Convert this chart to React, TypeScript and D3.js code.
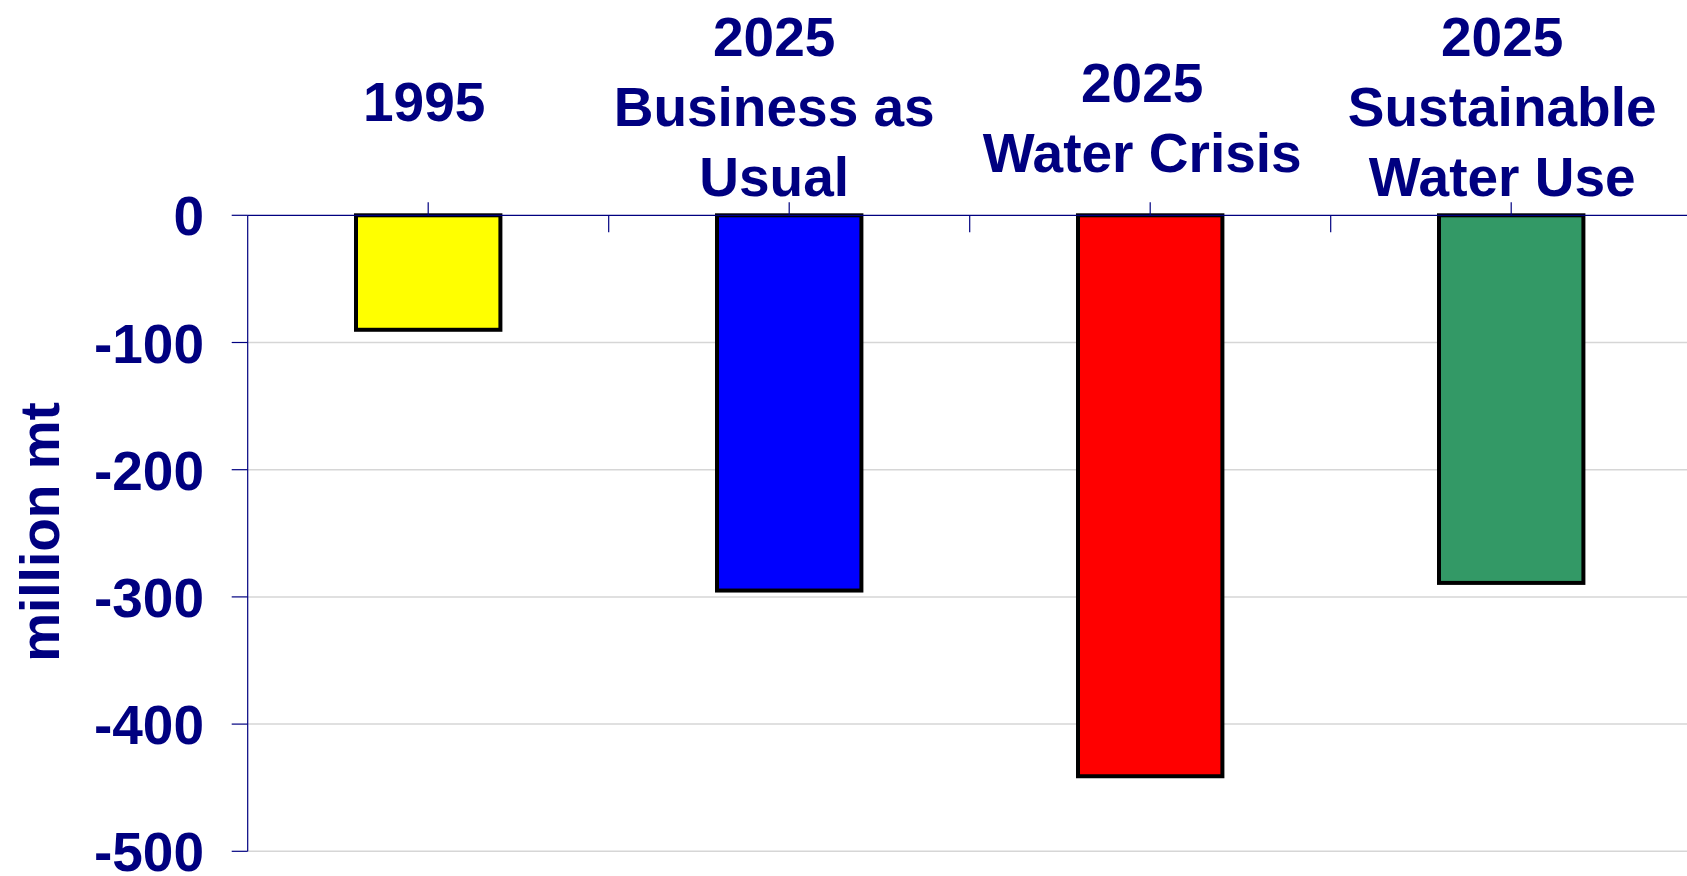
import React from "react";
import * as d3 from "d3";

const categories = ["1995", "2025 BAU", "2025 Crisis", "2025 Sustainable"];
const labelLines: string[][] = [
  ["1995"],
  ["2025", "Business as", "Usual"],
  ["2025", "Water Crisis"],
  ["2025", "Sustainable", "Water Use"],
];
const values = [-90, -295, -441, -289];
const barColors = ["#ffff00", "#0000ff", "#ff0000", "#339966"];
const yTicks = [0, -100, -200, -300, -400, -500];
const yTitle = "million mt";

// layout (not data)
const labelLastBaseline = [121, 196, 172, 196];
const labelDx = [-4, -15, -8, -9];

const W = 1687;
const H = 876;
const NAVY = "#000080";
const FONT = "'Liberation Sans', Arial, Helvetica, sans-serif";

export default function App() {
  const left = 247.7;
  const bandW = 361;
  const x = d3
    .scaleBand<string>()
    .domain(categories)
    .range([left, left + bandW * categories.length])
    .paddingInner(0.6)
    .paddingOuter(0.3);
  const y = d3.scaleLinear().domain([0, -500]).range([215.3, 851.3]);
  const step = x.step();
  const bandStart = (c: string) => (x(c) as number) - x.paddingInner() * step / 2;
  const center = (c: string) => (x(c) as number) + x.bandwidth() / 2;

  return (
    <svg
      width={W}
      height={H}
      style={{ position: "absolute", left: 0, top: 0, background: "#fff" }}
      fontFamily={FONT}
    >
      {/* gridlines */}
      {yTicks
        .filter((t) => t !== 0)
        .map((t) => (
          <line
            key={"g" + t}
            x1={left}
            x2={W}
            y1={y(t)}
            y2={y(t)}
            stroke="#d6d6d6"
            strokeWidth={1.5}
          />
        ))}
      {/* y ticks */}
      {yTicks.map((t) => (
        <line key={"t" + t} x1={left - 16} x2={left} y1={y(t)} y2={y(t)} stroke={NAVY} strokeWidth={1.2} />
      ))}
      {/* y axis */}
      <line x1={left} x2={left} y1={y(0)} y2={y(-500)} stroke={NAVY} strokeWidth={1.2} />
      {/* y tick labels */}
      {yTicks.map((t) => (
        <text
          key={"l" + t}
          x={204}
          y={y(t) + 20}
          textAnchor="end"
          fontSize={55}
          fontWeight="bold"
          fill={NAVY}
        >
          {t}
        </text>
      ))}
      {/* y title */}
      <text
        transform={`translate(59, 532) rotate(-90)`}
        textAnchor="middle"
        fontSize={55}
        fontWeight="bold"
        fill={NAVY}
      >
        {yTitle}
      </text>
      {/* bars */}
      {categories.map((c, i) => (
        <rect
          key={c}
          x={x(c)}
          y={y(0)}
          width={x.bandwidth()}
          height={y(values[i]) - y(0)}
          fill={barColors[i]}
          stroke="#000"
          strokeWidth={4}
        />
      ))}
      {/* zero axis line */}
      <line x1={left} x2={W} y1={y(0)} y2={y(0)} stroke={NAVY} strokeWidth={1.2} />
      {/* category ticks */}
      {categories.map((c, i) => (
        <g key={"ct" + c}>
          <line x1={center(c)} x2={center(c)} y1={y(0) - 13} y2={y(0)} stroke={NAVY} strokeWidth={1.2} />
          {i > 0 && (
            <line
              x1={bandStart(c)}
              x2={bandStart(c)}
              y1={y(0)}
              y2={y(0) + 17}
              stroke={NAVY}
              strokeWidth={1.2}
            />
          )}
        </g>
      ))}
      {/* category labels */}
      {categories.map((c, i) => {
        const lines = labelLines[i];
        const last = labelLastBaseline[i];
        return (
          <text
            key={"cl" + c}
            textAnchor="middle"
            fontSize={55}
            fontWeight="bold"
            fill={NAVY}
          >
            {lines.map((ln, j) => (
              <tspan key={j} x={center(c) + labelDx[i]} y={last - (lines.length - 1 - j) * 70}>
                {ln}
              </tspan>
            ))}
          </text>
        );
      })}
    </svg>
  );
}
